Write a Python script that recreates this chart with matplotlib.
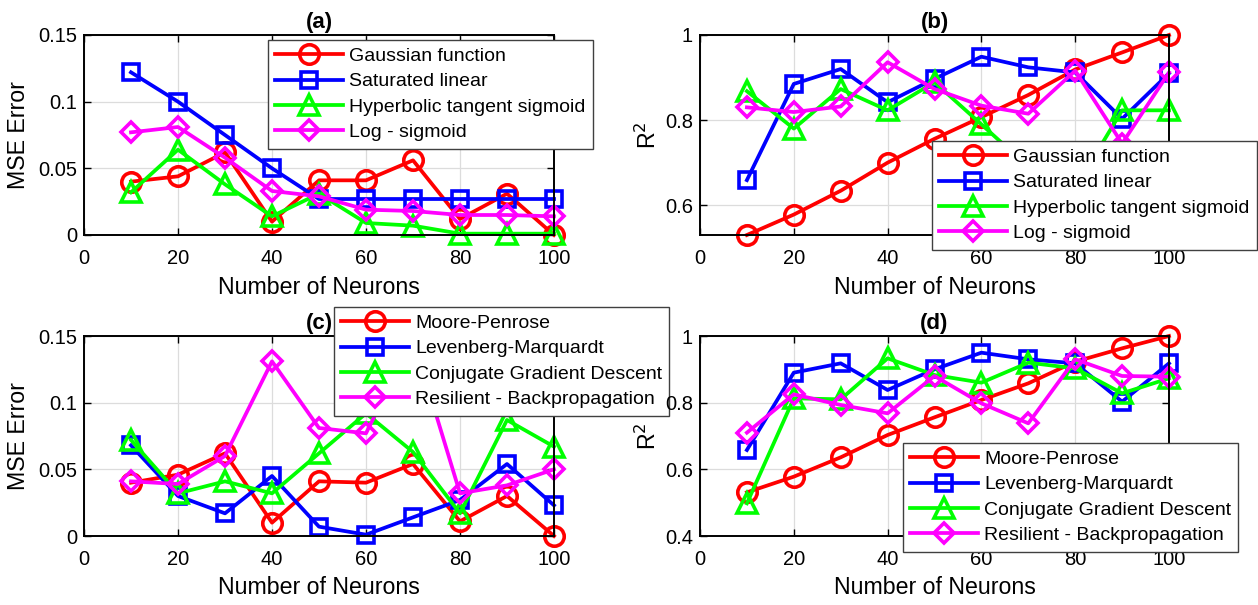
import matplotlib
matplotlib.use("Agg")
import matplotlib.pyplot as plt
from matplotlib.ticker import FuncFormatter

plt.rcParams['font.family'] = ['Liberation Sans', 'DejaVu Sans']

neurons = [10, 20, 30, 40, 50, 60, 70, 80, 90, 100]

# (a) MSE, activation functions
a_labels = ['Gaussian function', 'Saturated linear', 'Hyperbolic tangent sigmoid', 'Log - sigmoid']
a_gauss = [0.040, 0.044, 0.062, 0.010, 0.041, 0.041, 0.056, 0.012, 0.031, 0.000]
a_satlin = [0.122, 0.100, 0.075, 0.050, 0.027, 0.027, 0.027, 0.027, 0.027, 0.027]
a_tansig = [0.032, 0.064, 0.038, 0.014, 0.031, 0.009, 0.007, 0.001, 0.001, 0.001]
a_logsig = [0.077, 0.081, 0.058, 0.033, 0.029, 0.019, 0.018, 0.015, 0.015, 0.014]

# (b) R^2, activation functions
b_gauss = [0.530, 0.578, 0.634, 0.700, 0.756, 0.807, 0.859, 0.919, 0.959, 1.000]
b_satlin = [0.659, 0.885, 0.920, 0.842, 0.897, 0.949, 0.924, 0.912, 0.803, 0.910]
b_tansig = [0.868, 0.780, 0.873, 0.823, 0.889, 0.790, 0.690, 0.640, 0.823, 0.823]
b_logsig = [0.830, 0.819, 0.832, 0.936, 0.873, 0.834, 0.815, 0.916, 0.745, 0.912]

# (c) MSE, training algorithms
c_labels = ['Moore-Penrose', 'Levenberg-Marquardt', 'Conjugate Gradient Descent', 'Resilient - Backpropagation']
c_mp = [0.040, 0.046, 0.062, 0.010, 0.041, 0.040, 0.054, 0.011, 0.030, 0.000]
c_lm = [0.068, 0.030, 0.017, 0.045, 0.007, 0.001, 0.014, 0.027, 0.054, 0.023]
c_cgd = [0.072, 0.032, 0.041, 0.032, 0.062, 0.092, 0.063, 0.017, 0.087, 0.067]
c_rp = [0.041, 0.039, 0.060, 0.131, 0.081, 0.077, 0.148, 0.032, 0.038, 0.050]

# (d) R^2, training algorithms
d_mp = [0.531, 0.578, 0.636, 0.703, 0.756, 0.808, 0.858, 0.923, 0.963, 1.000]
d_lm = [0.658, 0.890, 0.918, 0.838, 0.900, 0.950, 0.930, 0.918, 0.803, 0.918]
d_cgd = [0.498, 0.813, 0.810, 0.933, 0.883, 0.860, 0.920, 0.903, 0.828, 0.873]
d_rp = [0.710, 0.825, 0.793, 0.768, 0.880, 0.798, 0.738, 0.930, 0.880, 0.878]

colors = ['#ff0000', '#0000ff', '#00ff00', '#ff00ff']
markers = ['o', 's', '^', 'D']
msizes = [14, 11.5, 14, 10]

W, H = 1258, 605
fig = plt.figure(figsize=(W / 100, H / 100), dpi=100)


def px_axes(l, t, r, b):
    return fig.add_axes([l / W, 1 - b / H, (r - l) / W, (b - t) / H])


fmt = FuncFormatter(lambda v, p: ('%g' % round(v, 4)))

panels = [
    dict(box=(84, 35, 554, 235), title='(a)', ylabel='MSE Error', ylim=(0, 0.15),
         yticks=[0, 0.05, 0.1, 0.15], series=[a_gauss, a_satlin, a_tansig, a_logsig],
         labels=a_labels, leg=(268, 40), ylx=-0.14),
    dict(box=(700, 35, 1169, 235), title='(b)', ylabel='R$^2$', ylim=(0.53, 1.0),
         yticks=[0.6, 0.8, 1.0], series=[b_gauss, b_satlin, b_tansig, b_logsig],
         labels=a_labels, leg=(932, 141), ylx=-0.11),
    dict(box=(84, 336, 554, 536), title='(c)', ylabel='MSE Error', ylim=(0, 0.15),
         yticks=[0, 0.05, 0.1, 0.15], series=[c_mp, c_lm, c_cgd, c_rp],
         labels=c_labels, leg=(334, 307), ylx=-0.14),
    dict(box=(700, 336, 1169, 536), title='(d)', ylabel='R$^2$', ylim=(0.4, 1.0),
         yticks=[0.4, 0.6, 0.8, 1.0], series=[d_mp, d_lm, d_cgd, d_rp],
         labels=c_labels, leg=(903, 443), ylx=-0.11),
]

for p in panels:
    ax = px_axes(*p['box'])
    for s, lab, c, m, ms in zip(p['series'], p['labels'], colors, markers, msizes):
        ax.plot(neurons, s, color=c, marker=m, markersize=ms, markerfacecolor='none',
                markeredgewidth=2.6, linewidth=2.7, label=lab, clip_on=False, zorder=3)
    ax.set_xlim(0, 100)
    ax.set_ylim(*p['ylim'])
    ax.set_xticks([0, 20, 40, 60, 80, 100])
    ax.set_yticks(p['yticks'])
    ax.yaxis.set_major_formatter(fmt)
    ax.grid(True, color='#dcdcdc', linewidth=0.9)
    ax.set_axisbelow(True)
    ax.tick_params(direction='in', top=True, right=True, length=5, width=1,
                   labelsize=14.5, colors='black')
    ax.tick_params(axis='x', pad=10)
    ax.tick_params(axis='y', pad=5)
    for sp in ax.spines.values():
        sp.set_linewidth(1.4)
        sp.set_zorder(4)
    ax.set_title(p['title'], fontweight='bold', fontsize=16, pad=5)
    ax.set_xlabel('Number of Neurons', fontsize=16.7)
    ax.xaxis.label.set_va('center')
    ax.xaxis.set_label_coords(0.5, -0.26)
    ax.set_ylabel(p['ylabel'], fontsize=16.7)
    ax.yaxis.label.set_va('center')
    ax.yaxis.set_label_coords(p['ylx'], 0.5)
    lx, ly = p['leg']
    leg = ax.legend(loc='upper left', bbox_to_anchor=(lx / W, 1 - ly / H),
                    bbox_transform=fig.transFigure, fontsize=14, frameon=True,
                    fancybox=False, framealpha=1, edgecolor='#404040',
                    borderpad=0.38, labelspacing=0.40, handlelength=3.5,
                    handletextpad=0.28, borderaxespad=0, numpoints=1)
    leg.get_frame().set_linewidth(1.0)
    leg.set_zorder(10)

fig.savefig('out.png', dpi=100)
